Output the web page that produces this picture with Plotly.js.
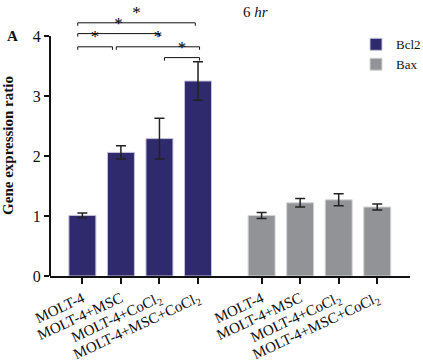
<!DOCTYPE html>
<html>
<head>
<meta charset="utf-8">
<script src="https://cdn.plot.ly/plotly-3.0.1.min.js"></script>
<style>html,body{margin:0;padding:0;background:#fff;}#chart{width:423px;height:362px;}</style>
</head>
<body>
<div id="chart"></div>
<script>
// ---- data ----
var categories = ["MOLT-4", "MOLT-4+MSC", "MOLT-4+CoCl<sub>2</sub>", "MOLT-4+MSC+CoCl<sub>2</sub>"];
var bcl2Pos = [0, 1, 2, 3];
var baxPos = [4.65, 5.65, 6.65, 7.65];
var bcl2Values = [1.01, 2.06, 2.29, 3.25];
var bcl2Errors = [0.04, 0.11, 0.34, 0.32];
var baxValues = [1.01, 1.22, 1.27, 1.15];
var baxErrors = [0.05, 0.07, 0.10, 0.05];
var yTicks = [0, 1, 2, 3, 4];
// significance brackets: [left x, right x, level]
var sigBrackets = [
  [-0.12, 2.93, 4.22],
  [-0.12, 2.00, 4.04],
  [-0.12, 0.78, 3.82],
  [0.88, 3.04, 3.82],
  [2.13, 3.04, 3.64]
];
var sigLabel = "*";

var serif = "Liberation Serif";
var navy = "#2f2a6e";
var grey = "#929396";

var traces = [];
traces.push({
  type: "bar", name: "Bcl2", x: bcl2Pos, y: bcl2Values, width: 0.7,
  marker: {color: navy, line: {color: "#c4c2dc", width: 1}},
  error_y: {type: "data", array: bcl2Errors, visible: true, color: "#222", thickness: 1.5, width: 5}
});
traces.push({
  type: "bar", name: "Bax", x: baxPos, y: baxValues, width: 0.7,
  marker: {color: grey, line: {color: "#d4d5d7", width: 1}},
  error_y: {type: "data", array: baxErrors, visible: true, color: "#222", thickness: 1.5, width: 5}
});

var tick = 0.05;
var sx = [], sy = [], stx = [], sty = [], stt = [];
sigBrackets.forEach(function (b) {
  sx.push(b[0], b[0], b[1], b[1], null);
  sy.push(b[2] - tick, b[2], b[2], b[2] - tick, null);
  stx.push((b[0] + b[1]) / 2);
  sty.push(b[2] + 0.01);
  stt.push(sigLabel);
});
traces.push({
  type: "scatter", mode: "lines", x: sx, y: sy, showlegend: false, hoverinfo: "skip",
  line: {color: "#111", width: 1}, cliponaxis: false
});
traces.push({
  type: "scatter", mode: "text", x: stx, y: sty, text: stt, showlegend: false, hoverinfo: "skip",
  textposition: "top center", textfont: {family: serif, size: 17, color: "#000000"}, cliponaxis: false
});

var layout = {
  width: 423, height: 362,
  margin: {l: 50, r: 13, t: 15, b: 86, autoexpand: false},
  paper_bgcolor: "#fff", plot_bgcolor: "rgba(0,0,0,0)",
  font: {family: serif, color: "#111", size: 14},
  showlegend: true,
  legend: {x: 0.85, y: 0.945, xanchor: "left", yanchor: "top", font: {family: serif, size: 13},
           itemwidth: 30, tracegroupgap: 0, bgcolor: "rgba(0,0,0,0)"},
  xaxis: {
    range: [-0.84, 8.5], tickvals: bcl2Pos.concat(baxPos), ticktext: categories.concat(categories),
    tickangle: -25, ticks: "outside", ticklen: 6, tickwidth: 2, tickcolor: "#111",
    showline: true, linecolor: "#111", linewidth: 2, showgrid: false, zeroline: false,
    tickfont: {family: serif, size: 15, color: "#111"}, fixedrange: true, automargin: false
  },
  yaxis: {
    range: [0, 4.35], tickvals: yTicks, ticks: "outside", ticklen: 5, tickwidth: 2, tickcolor: "#111",
    showline: false, showgrid: false, zeroline: false, automargin: false,
    tickfont: {family: serif, size: 16, color: "#111"},
    title: {text: "<b>Gene expression ratio</b>", font: {family: serif, size: 15, color: "#111"}},
    fixedrange: true
  },
  shapes: [
    {type: "line", xref: "paper", yref: "y", x0: 0, x1: 0, y0: 0, y1: 4, line: {color: "#111", width: 2}}
  ],
  annotations: [
    {text: "6 <i>hr</i>", xref: "paper", yref: "paper", x: 0.57, y: 1.01, xanchor: "center", yanchor: "middle",
     showarrow: false, font: {family: serif, size: 15, color: "#111"}},
    {text: "<b>A</b>", xref: "paper", yref: "paper", x: -0.105, y: 0.92, xanchor: "center", yanchor: "middle",
     showarrow: false, font: {family: serif, size: 15, color: "#111"}}
  ]
};

Plotly.newPlot("chart", traces, layout, {displayModeBar: false, staticPlot: true});
</script>
</body>
</html>
